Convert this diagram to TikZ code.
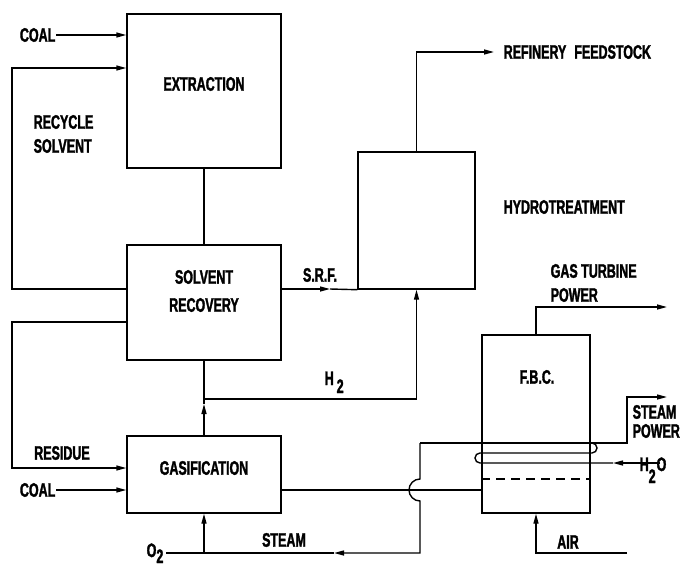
\documentclass[tikz,border=0pt]{standalone}
\usepackage{fontspec}
\newfontfamily\labfont{Liberation Sans}[UprightFont=* Bold, FakeStretch=0.64, FakeBold=1.6]
\usetikzlibrary{arrows.meta}
\begin{document}
\begin{tikzpicture}[x=1pt,y=-1pt,
  line width=1.4pt,
  arr/.style={-{Triangle[length=10pt,width=5pt]}},
  box/.style={draw, rectangle, inner sep=0pt},
  lab/.style={font=\labfont\fontsize{19.5}{24}\selectfont, inner sep=0pt, align=left}]
\useasboundingbox (0,0) rectangle (681,566);

% boxes
\node[box, minimum width=154pt, minimum height=154pt] (ext) at (204,91) {};
\node[box, minimum width=154pt, minimum height=115pt] (sr) at (204,302.5) {};
\node[box, minimum width=154pt, minimum height=77pt] (gas) at (204,474.5) {};
\node[box, minimum width=117pt, minimum height=137pt] (hyd) at (416.5,220.5) {};
\node[box, minimum width=108pt, minimum height=178pt] (fbc) at (536,424) {};

% texts
\node[lab] (tExt) at (204,84) {EXTRACTION};
\node[lab, align=center] (tSr) at (204,291) {SOLVENT\\[4pt]RECOVERY};
\node[lab] (tGas) at (204,468) {GASIFICATION};
\node[lab] (tFbc) at (537,377) {F.B.C.};
\node[lab, anchor=east] (coal1) at (56,35) {COAL};
\node[lab, anchor=west] (tRec) at (33,134) {RECYCLE\\SOLVENT};
\node[lab] (tRes) at (62,453) {RESIDUE};
\node[lab, anchor=east] (coal2) at (56,490) {COAL};
\node[lab] (tSrf) at (320,275) {S.R.F.};
\node[lab, anchor=base west] (tH2) at (324,385) {H\hspace{3pt}\raisebox{-8pt}{2}};
\node[lab, anchor=base west] (tH2o) at (639,471) {H\raisebox{-12pt}{2}\hspace{1pt}O};
\node[lab, anchor=west] (refin) at (503,52) {REFINERY\hspace{8pt}FEEDSTOCK};
\node[lab, anchor=west] (tHyd) at (503,207) {HYDROTREATMENT};
\node[lab, anchor=west] (tGt) at (550,283) {GAS TURBINE\\POWER};
\node[lab, anchor=west] (tSp) at (632,421.5) {STEAM\\[-5pt]POWER};
\node[lab] (tAir) at (568,542) {AIR};
\node[lab] (tSteam) at (284,540) {STEAM};
\node[lab, anchor=base west] (tO2) at (146,557) {O\raisebox{-6pt}{2}};

% coordinates
\coordinate (rsL) at (12,289);
\coordinate (rsT) at (12,68);
\coordinate (srfM) at (330,289);
\coordinate (reL) at (12,322);
\coordinate (reB) at (12,468);
\coordinate (gMid) at (204,404);
\coordinate (hJ) at (204,399);
\coordinate (hC) at (416.5,399);
\coordinate (rfC) at (416.5,52);
\coordinate (rfE) at (494,52);
\coordinate (gtC) at (536,307);
\coordinate (gtE) at (667,307);
\coordinate (hopC) at (420,490);
\coordinate (cTL) at (420,443);
\coordinate (cTR) at (627,443);
\coordinate (spU) at (627,397);
\coordinate (spE) at (667,397);
\coordinate (hopT) at (420,479);
\coordinate (stB) at (420,553);
\coordinate (stM) at (334,553);
\coordinate (o2E) at (166,553);
\coordinate (h2oS) at (660,463);
\coordinate (h2oT) at (613,463);
\coordinate (cL) at (480,463);
\coordinate (cR) at (592,453);
\coordinate (airE) at (627,553);
\coordinate (airC) at (536,553);
\coordinate (dsh) at (536,479);

% connectors
\draw[arr] (coal1.east) -- (coal1.east -| ext.west);
\draw[arr] (sr.west |- rsL) -- (rsL) -- (rsT) -- (rsT -| ext.west);
\draw[arr] (sr.east |- rsL) -- (srfM);
\draw (srfM) -- (hyd.south west);
\draw[arr] (sr.west |- reL) -- (reL) -- (reB) -- (reB -| gas.west);
\draw[arr] (coal2.east) -- (coal2.east -| gas.west);
\draw (ext.south) -- (sr.north);
\draw[arr] (gas.north) -- (gMid);
\draw (gMid) -- (sr.south);
\draw[arr] (hJ) -- (hC) -- (hyd.south);
\draw[arr] (hyd.north) -- (rfC) -- (rfE);
\draw[arr] (fbc.north) -- (gtC) -- (gtE);
\draw (gas.east |- hopC) -- (fbc.west |- hopC);
\draw[arr] (cTL) -- (cTR) -- (spU) -- (spE);
\draw[arr] (cTL) -- (hopT) arc[start angle=90, end angle=270, radius=11pt] -- (stB) -- (stM);
\draw (stM) -- (o2E);
\draw[arr] (gas.south |- stB) -- (gas.south);
\draw[arr] (h2oS) -- (h2oT);
\draw (h2oT) -- (cL) arc[start angle=270, end angle=90, radius=5pt] -- (cR) arc[start angle=-90, end angle=90, radius=5pt];
\draw[arr] (airE) -- (airC) -- (fbc.south);
\draw[dash pattern=on 9pt off 6pt] (fbc.west |- dsh) -- (fbc.east |- dsh);
\end{tikzpicture}
\end{document}
